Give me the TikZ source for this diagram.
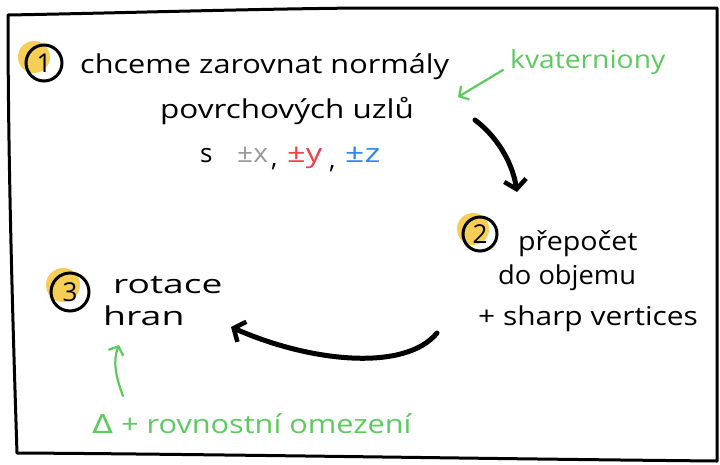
\documentclass[tikz,border=0pt]{standalone}
\usepackage{fontspec}
\setmainfont{Open Sans}
\newfontfamily\symfont{DejaVu Sans}
\usetikzlibrary{arrows.meta}
\definecolor{hlyellow}{HTML}{F6C843}
\definecolor{skgreen}{HTML}{5CCB5F}
\definecolor{skred}{HTML}{F0404A}
\definecolor{skblue}{HTML}{2F86F0}
\definecolor{skgray}{HTML}{9A9A9A}
\newcommand{\hsc}[2]{\scalebox{#1}[1]{#2}}
\tikzset{
  txt/.style={anchor=base west, inner sep=0pt, font=\fontsize{26}{30}\selectfont},
  gtxt/.style={txt, text=skgreen},
  frame/.style={line width=3pt, line cap=round, line join=round},
  bigarrow/.style={line width=5pt, line cap=round, -{Straight Barb[length=9pt,width=22pt,line width=4.5pt]}},
  greenarrow/.style={draw=skgreen, line width=2.2pt, line cap=round, -{Straight Barb[length=7pt,width=16pt,line width=2.2pt]}},
  numcircle/.style={circle, draw, line width=3pt, minimum size=36pt, inner sep=0pt, font=\fontsize{26}{28}\selectfont},
  hl/.style={fill=hlyellow, opacity=0.9}
}
\begin{document}
\begin{tikzpicture}[x=1pt,y=-1pt]
\useasboundingbox (0,0) rectangle (720,464);
\fill[white] (0,0) rectangle (720,464);
% frame
\draw[frame] (8,15) .. controls (120,13) and (250,9) .. (360,8) -- (717,8)
  -- (717,461) .. controls (500,459) and (200,454) .. (17,453)
  .. controls (12,300) and (8,150) .. cycle;

% step 1
\fill[hl] (34,57) circle (16pt);
\node[numcircle] (n1) at (44,63) {1};
\node[txt] (t1) at (80,73) {\hsc{1.18}{chceme zarovnat normály}};
\node[txt] (t1b) at (160,118) {\hsc{1.21}{povrchových uzlů}};
\node[txt] (s1) at (200,162) {s};
\node[txt, text=skgray] (sx) at (237,162) {\hsc{1.08}{±x}};
\node[txt] (c1) at (271,166) {,};
\node[txt, text=skred] (sy) at (287,162) {\hsc{1.25}{±y}};
\node[txt] (c2) at (329,168) {,};
\node[txt, text=skblue] (sz) at (345,162) {\hsc{1.3}{±z}};
\node[gtxt, font=\fontsize{25}{28}\selectfont] (kv) at (510,68) {\hsc{1.13}{kvaterniony}};

% step 2
\fill[hl] (473,229) circle (16pt);
\node[numcircle, minimum size=34pt] (n2) at (480,234) {2};
\node[txt] (t2) at (518,250) {\hsc{1.1}{přepočet}};
\node[txt] (t2b) at (498,284) {\hsc{1.05}{do objemu}};
\node[txt] (t2c) at (478,325) {\hsc{1.15}{+ sharp vertices}};

% step 3
\fill[hl] (63,285) circle (17pt);
\node[numcircle, minimum size=38pt] (n3) at (70,292) {3};
\node[txt] (t3) at (113,293) {\hsc{1.43}{rotace}};
\node[txt] (t3b) at (103,325) {\hsc{1.44}{hran}};

% green constraint label
\node[gtxt] (dl) at (92,433) {\hsc{1.18}{{\symfont Δ} + rovnostní omezení}};

% connectors
\coordinate (a1s) at (475,120);
\coordinate (a1e) at (517,192);
\draw[bigarrow] (a1s) .. controls (495,135) and (512,160) .. (a1e);
\coordinate (a2s) at (437,333);
\coordinate (a2e) at (231,327);
\draw[bigarrow] (a2s) .. controls (405,372) and (310,362) .. (a2e);
\coordinate (g1s) at (503,70);
\coordinate (g1e) at (458,97);
\draw[greenarrow] (g1s) -- (g1e);
\coordinate (g2s) at (123,396);
\coordinate (g2e) at (119,345);
\draw[greenarrow] (g2s) .. controls (115,375) and (113,360) .. (g2e);
\end{tikzpicture}
\end{document}
